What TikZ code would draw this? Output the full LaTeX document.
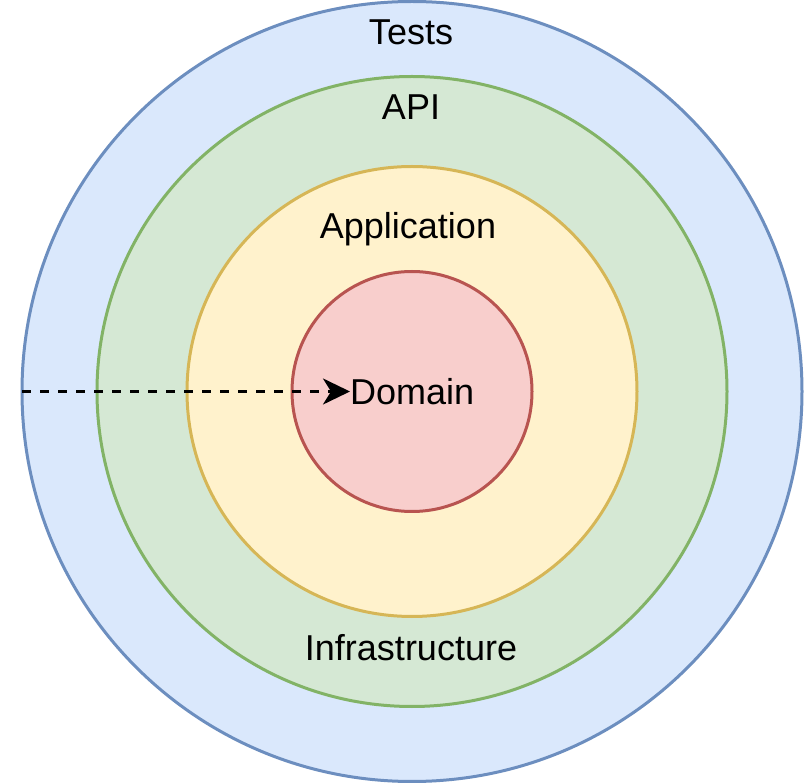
\documentclass[tikz,border=0pt]{standalone}
\usepackage{fontspec}
\setmainfont{Liberation Sans}
\usetikzlibrary{arrows.meta}

\definecolor{testsfill}{HTML}{DAE8FC}
\definecolor{testsline}{HTML}{6C8EBF}
\definecolor{apifill}{HTML}{D5E8D4}
\definecolor{apiline}{HTML}{82B366}
\definecolor{appfill}{HTML}{FFF2CC}
\definecolor{appline}{HTML}{D6B656}
\definecolor{domfill}{HTML}{F8CECC}
\definecolor{domline}{HTML}{B85450}

\tikzset{
  layer/.style={circle, line width=3pt, inner sep=0pt, outer sep=0pt},
  lbl/.style={inner sep=0pt, anchor=base, font=\fontsize{36}{43}\selectfont}
}

\begin{document}
\begin{tikzpicture}[x=1pt,y=-1pt]
\useasboundingbox (0,0) rectangle (804,783);

% rings, outside in
\node [layer, fill=testsfill, draw=testsline, minimum size=780pt] (tests) at (412,391.5) {};
\node [layer, fill=apifill, draw=apiline, minimum size=630pt] (api) at (412,391.5) {};
\node [layer, fill=appfill, draw=appline, minimum size=450pt] (app) at (412,391.5) {};
\node [layer, fill=domfill, draw=domline, minimum size=240pt] (dom) at (412,391.5) {};

% labels
\node [lbl] (testslbl) at (411,45) {Tests};
\node [lbl] (apilbl) at (411,120) {API};
\node [lbl] (applbl) at (408,239) {Application};
\node [lbl] (infralbl) at (411,660) {Infrastructure};
\node [lbl, anchor=base west] (domlbl) at (350,405) {Domain};

\draw [line width=3pt, dash pattern=on 9pt off 9pt, -{Stealth[length=27pt,width=26pt,inset=8pt]}]
  (tests.west) -- (domlbl.west |- tests.west);

\end{tikzpicture}
\end{document}
